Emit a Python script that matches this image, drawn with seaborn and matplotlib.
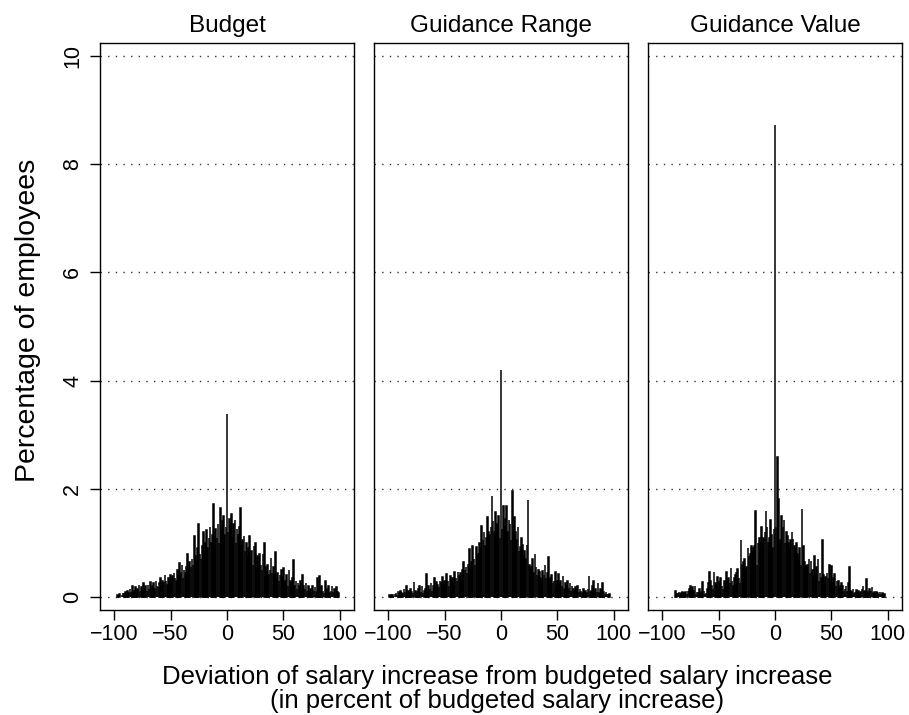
import numpy as np
import pandas as pd
import seaborn as sns
import matplotlib.pyplot as plt

# deviation bins (percent of budgeted increase), one value per integer -100..100
deviation = np.arange(-100, 101)
panels = ["Budget", "Guidance Range", "Guidance Value"]

budget = [
    0, 0, 0, 0.04, 0, 0.06, 0, 0.03, 0.08, 0.05,
    0.1, 0.06, 0.12, 0.08, 0.15, 0.1, 0.2, 0.08, 0.12, 0.18,
    0.1, 0.15, 0.22, 0.12, 0.18, 0.1, 0.25, 0.15, 0.2, 0.12,
    0.22, 0.15, 0.28, 0.12, 0.2, 0.25, 0.15, 0.3, 0.2, 0.18,
    0.25, 0.35, 0.2, 0.3, 0.25, 0.4, 0.3, 0.22, 0.35, 0.28,
    0.4, 0.3, 0.38, 0.45, 0.35, 0.3, 0.5, 0.4, 0.62, 0.45,
    0.6, 0.35, 0.5, 0.45, 0.55, 0.8, 0.5, 0.65, 0.55, 0.7,
    0.6, 1.13, 0.75, 0.65, 0.9, 1.35, 0.8, 0.7, 0.95, 1.2,
    0.85, 1.0, 1.23, 0.9, 1.1, 1.3, 1.0, 1.15, 1.72, 1.05,
    1.26, 1.1, 1.35, 1.0, 1.65, 1.2, 1.4, 1.5, 1.15, 1.3,
    3.38,
    1.2, 1.45, 1.3, 1.53, 1.1, 1.35, 1.43, 1.0, 1.25, 1.15,
    1.3, 1.65, 0.95, 1.05, 1.13, 0.85, 1.0, 0.75, 0.9, 1.12,
    0.7, 0.85, 0.6, 0.95, 1.0, 0.65, 0.75, 0.55, 0.8, 0.6,
    0.5, 0.8, 1.0, 0.55, 0.45, 0.6, 0.4, 0.5, 0.72, 0.45,
    0.55, 0.4, 0.83, 0.35, 0.45, 0.3, 0.4, 0.5, 0.35, 0.54,
    0.3, 0.25, 0.4, 0.2, 0.5, 0.3, 0.25, 0.35, 0.68, 0.2,
    0.3, 0.15, 0.25, 0.2, 0.3, 0.12, 0.4, 0.2, 0.15, 0.25,
    0.12, 0.2, 0.1, 0.15, 0.08, 0.2, 0.12, 0.18, 0.1, 0.35,
    0.15, 0.38, 0.1, 0.2, 0.12, 0.08, 0.3, 0.15, 0.1, 0.2,
    0.08, 0.12, 0.2, 0.1, 0.15, 0.05, 0.18, 0.1, 0.08, 0,
]

guidance_range = [
    0, 0.03, 0, 0.04, 0.03, 0, 0.05, 0.08, 0.04, 0.1,
    0.06, 0.12, 0.08, 0.05, 0.15, 0.1, 0.2, 0.08, 0.12, 0.06,
    0.15, 0.1, 0.08, 0.28, 0.12, 0.05, 0.1, 0.15, 0.2, 0.1,
    0.2, 0.08, 0.12, 0.15, 0.42, 0.1, 0.2, 0.15, 0.25, 0.12,
    0.2, 0.35, 0.15, 0.28, 0.22, 0.18, 0.3, 0.25, 0.37, 0.2,
    0.3, 0.25, 0.42, 0.3, 0.2, 0.38, 0.3, 0.35, 0.25, 0.47,
    0.35, 0.3, 0.47, 0.38, 0.45, 0.3, 0.5, 0.65, 0.5, 0.55,
    0.45, 0.6, 0.89, 0.5, 0.65, 0.95, 0.7, 0.6, 0.92, 0.75,
    0.8, 1.0, 0.9, 1.32, 1.05, 1.21, 0.95, 1.1, 1.47, 1.2,
    1.15, 1.3, 1.87, 1.4, 1.2, 1.57, 1.35, 1.3, 1.5, 1.1,
    4.2,
    1.25, 1.68, 1.3, 1.45, 1.68, 1.2, 1.42, 1.35, 1.05, 1.96,
    1.3, 1.48, 1.2, 1.05, 1.3, 0.85, 0.93, 1.1, 0.96, 0.75,
    0.85, 0.7, 0.96, 1.79, 0.6, 0.5, 0.55, 0.7, 0.45, 0.8,
    0.55, 0.4, 0.5, 0.46, 0.35, 0.3, 0.48, 0.4, 0.6, 0.35,
    0.45, 0.74, 0.3, 0.35, 0.4, 0.25, 0.3, 0.46, 0.2, 0.3,
    0.42, 0.25, 0.3, 0.2, 0.38, 0.15, 0.25, 0.2, 0.3, 0.15,
    0.25, 0.12, 0.2, 0.15, 0.1, 0.18, 0.12, 0.2, 0.1, 0.15,
    0.12, 0.08, 0.15, 0.1, 0.12, 0.08, 0.15, 0.38, 0.1, 0.12,
    0.2, 0.3, 0.12, 0.15, 0.1, 0.25, 0.08, 0.15, 0.1, 0.25,
    0.1, 0.05, 0.1, 0.06, 0.03, 0.05, 0, 0, 0, 0,
]

guidance_value = [
    0, 0, 0, 0, 0, 0, 0, 0, 0, 0,
    0, 0, 0.12, 0.05, 0.08, 0.1, 0.06, 0.08, 0.1, 0.08,
    0.05, 0.1, 0.06, 0.12, 0.15, 0.2, 0.1, 0.18, 0.12, 0.2,
    0.05, 0.1, 0.08, 0.15, 0.05, 0.1, 0.28, 0.12, 0.05, 0.07,
    0.15, 0.25, 0.47, 0.3, 0.2, 0.15, 0.47, 0.25, 0.2, 0.37,
    0.15, 0.28, 0.35, 0.2, 0.15, 0.3, 0.25, 0.47, 0.3, 0.35,
    0.25, 0.54, 0.3, 0.2, 0.35, 0.4, 0.45, 0.52, 0.35, 0.25,
    1.05, 0.6, 0.65, 0.7, 0.5, 0.55, 0.9, 0.75, 0.8, 0.94,
    0.85, 0.9, 0.95, 1.59, 0.6, 1.0, 1.1, 1.0, 1.29, 0.95,
    1.1, 1.2, 1.59, 1.3, 1.0, 1.1, 1.42, 1.15, 0.9, 1.25,
    8.72,
    1.3, 2.59, 1.82, 1.0, 1.05, 1.5, 1.3, 1.42, 1.0, 1.2,
    1.13, 1.0, 0.9, 1.05, 1.2, 1.08, 0.95, 0.85, 1.0, 0.8,
    0.7, 0.9, 0.6, 1.62, 0.94, 0.65, 0.57, 0.55, 0.6, 0.7,
    0.45, 0.67, 0.5, 0.35, 0.75, 0.4, 0.55, 0.7, 0.3, 0.45,
    0.35, 1.05, 0.4, 0.3, 0.37, 0.45, 0.35, 0.6, 0.3, 0.57,
    0.25, 0.35, 0.43, 0.2, 0.3, 0.3, 0.15, 0.2, 0.25, 0.2,
    0.12, 0.15, 0.2, 0.1, 0.25, 0.56, 0.12, 0.1, 0.15, 0.08,
    0.1, 0.13, 0.08, 0.12, 0.05, 0.1, 0.15, 0.2, 0.12, 0.1,
    0.33, 0.1, 0.08, 0.15, 0.12, 0.18, 0.08, 0.1, 0.05, 0.1,
    0.08, 0.05, 0.1, 0.06, 0.08, 0.04, 0.05, 0, 0, 0,
]

x_ticks = [-100, -50, 0, 50, 100]
y_ticks = [0, 2, 4, 6, 8, 10]

df = pd.concat([
    pd.DataFrame({"deviation": deviation, "percent": vals, "panel": name})
    for name, vals in zip(panels, [budget, guidance_range, guidance_value])
])
df = df[df.percent > 0]  # empty bins draw nothing

sns.set_style("white")
plt.rcParams['font.family'] = ['Liberation Sans', 'DejaVu Sans']
plt.rcParams['axes.linewidth'] = 1.0
for k in ['text.color', 'axes.labelcolor', 'xtick.color', 'ytick.color', 'axes.edgecolor']:
    plt.rcParams[k] = 'black'

fig = plt.figure(figsize=(9.09, 7.15), dpi=100)
W, H = 909, 715
lefts = [100, 374, 648]
for i, name in enumerate(panels):
    ax = fig.add_axes([lefts[i] / W, (H - 610) / H, 254 / W, (610 - 43) / H])
    for y in y_ticks:
        ax.axhline(y, color='0.2', linestyle=(0, (1, 4.5)), linewidth=1.0, zorder=0)
    sub = df[df.panel == name]
    sns.histplot(data=sub, x="deviation", weights="percent", discrete=True,
                 shrink=0.6, color="black", edgecolor="black", linewidth=1.1,
                 alpha=1, ax=ax, zorder=2)
    ax.set_xlim(-112.5, 112.5)
    ax.set_ylim(-0.24, 10.24)
    ax.set_xticks(x_ticks)
    ax.set_xticklabels(["\u2212100", "\u221250", "0", "50", "100"])
    ax.tick_params(axis='x', direction='out', length=7, width=1, labelsize=15.5,
                   pad=3, bottom=True, colors='black')
    ax.set_title(name, fontsize=17.5, pad=8, color='black')
    ax.set_xlabel("")
    ax.set_ylabel("")
    for s in ax.spines.values():
        s.set_visible(True)
        s.set_color('black')
    if i == 0:
        ax.set_yticks(y_ticks)
        ax.tick_params(axis='y', direction='out', length=7, width=1, labelsize=15.5,
                       left=True, pad=5, colors='black')
        for lab in ax.get_yticklabels():
            lab.set_rotation(90)
            lab.set_va('center')
    else:
        ax.set_yticks([])

fig.text(28 / W, 1 - 320 / H, "Percentage of employees", rotation=90,
         ha='center', va='center', fontsize=20.5)
fig.text(497 / W, 1 - 689 / H,
         "Deviation of salary increase from budgeted salary increase\n(in percent of budgeted salary increase)",
         ha='center', va='center', fontsize=18.5, linespacing=0.95)

fig.savefig("out.png", dpi=100)
